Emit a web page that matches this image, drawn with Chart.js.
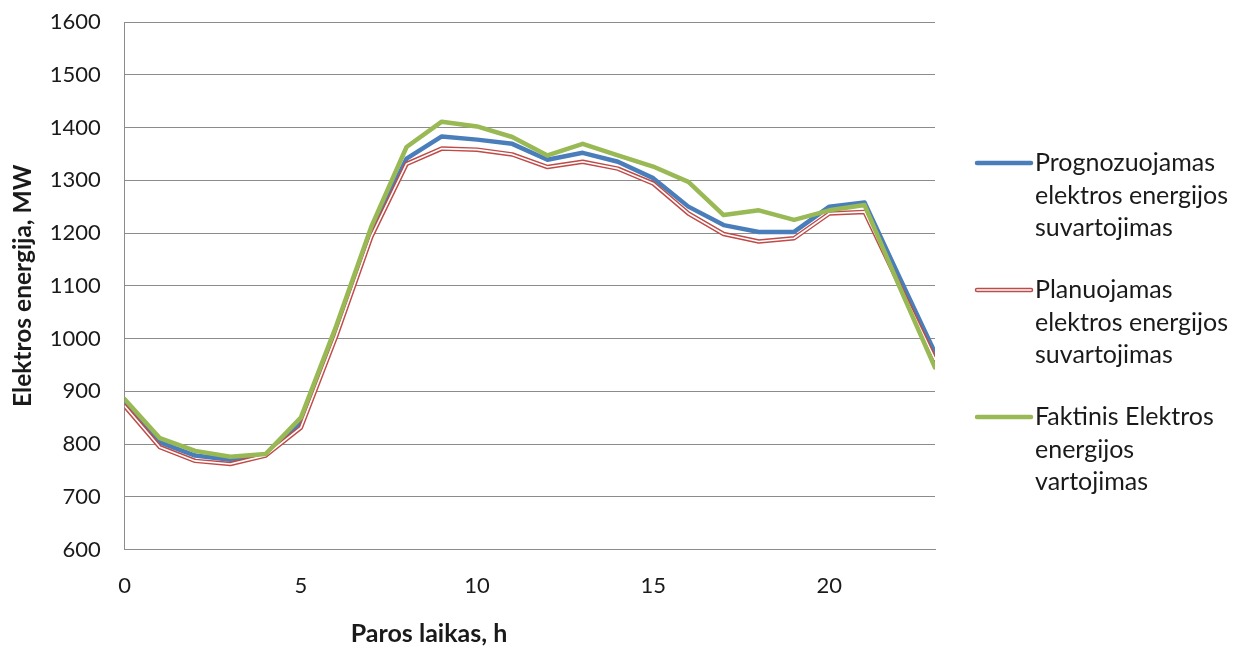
<!DOCTYPE html>
<html>
<head>
<meta charset="utf-8">
<script src="https://cdn.jsdelivr.net/npm/chart.js@4/dist/chart.umd.min.js"></script>
<style>
  html, body { margin: 0; padding: 0; background: #ffffff; }
  #wrap { width: 1244px; height: 646px; position: relative; }
</style>
</head>
<body>
<div id="wrap"><canvas id="c" width="1244" height="646"></canvas></div>
<script>
// ---- data ----
const hours = [0, 1, 2, 3, 4, 5, 6, 7, 8, 9, 10, 11, 12, 13, 14, 15, 16, 17, 18, 19, 20, 21, 22, 23];
const prognozuojamas = [875, 803, 778, 770, 779, 842, 1017, 1202, 1341, 1383, 1377, 1369, 1339, 1352, 1335, 1304, 1250, 1215, 1202, 1202, 1250, 1258, 1115, 973];
const planuojamas = [872, 794, 768, 762, 778, 831, 1004, 1193, 1331, 1360, 1358, 1349, 1325, 1335, 1322, 1294, 1237, 1198, 1184, 1190, 1237, 1240, 1100, 960];
const faktinis = [885, 811, 787, 776, 781, 850, 1023, 1212, 1363, 1411, 1402, 1382, 1347, 1369, 1347, 1326, 1297, 1234, 1243, 1225, 1243, 1253, 1097, 945];
const xTickValues = [0, 5, 10, 15, 20];
const yMin = 600, yMax = 1600, yStep = 100;
const seriesLabels = [
  ['Prognozuojamas', 'elektros energijos', 'suvartojimas'],
  ['Planuojamas', 'elektros energijos', 'suvartojimas'],
  ['Faktinis Elektros', 'energijos', 'vartojimas']
];
const xTitle = 'Paros laikas, h';
const yTitle = 'Elektros energija, MW';

// ---- styles ----
const BLUE = '#4A7EBB', RED = '#BE4B48', GREEN = '#98B954';
const GRID = '#8c8c8c';
const TEXT = '#1a1a1a';
const FONT = 'Lato, "Open Sans", sans-serif';

const toXY = arr => arr.map((v, i) => ({ x: hours[i], y: v }));

const legendPlugin = {
  id: 'sideLegend',
  afterDraw(chart) {
    const ctx = chart.ctx;
    const styles = [
      [{ c: BLUE, w: 4.5 }],
      [{ c: RED, w: 4.5 }, { c: '#ffffff', w: 1.6 }],
      [{ c: GREEN, w: 4.5 }]
    ];
    const x0 = 977, x1 = 1031, tx = 1035;
    const startY = 163, entryGap = 127, lineGap = 32.5;
    ctx.save();
    ctx.font = '25px ' + FONT;
    ctx.fillStyle = TEXT;
    ctx.textBaseline = 'middle';
    ctx.textAlign = 'left';
    seriesLabels.forEach((lines, i) => {
      const y = startY + i * entryGap;
      styles[i].forEach(s => {
        ctx.beginPath();
        ctx.lineCap = 'round';
        ctx.strokeStyle = s.c;
        ctx.lineWidth = s.w;
        ctx.moveTo(x0, y);
        ctx.lineTo(x1, y);
        ctx.stroke();
      });
      lines.forEach((t, j) => ctx.fillText(t, tx, y + j * lineGap));
    });
    // x-axis title (offset to the left as in the original)
    ctx.font = 'bold 25px ' + FONT;
    ctx.textAlign = 'center';
    ctx.fillText(xTitle, 429, 634);
    ctx.restore();
  }
};

new Chart(document.getElementById('c'), {
  type: 'line',
  data: {
    datasets: [
      { label: seriesLabels[0].join(' '), data: toXY(prognozuojamas), borderColor: BLUE, borderWidth: 4.5, pointRadius: 0, order: 4, tension: 0 },
      { label: seriesLabels[1].join(' '), data: toXY(planuojamas), borderColor: RED, borderWidth: 4.5, pointRadius: 0, order: 3, tension: 0 },
      { label: 'inner', data: toXY(planuojamas), borderColor: '#ffffff', borderWidth: 1.6, pointRadius: 0, order: 2, tension: 0 },
      { label: seriesLabels[2].join(' '), data: toXY(faktinis), borderColor: GREEN, borderWidth: 4.5, pointRadius: 0, order: 1, tension: 0 }
    ]
  },
  options: {
    responsive: false,
    animation: false,
    devicePixelRatio: 1,
    layout: { padding: { top: 22, right: 309, left: 0, bottom: 0 } },
    plugins: { legend: { display: false }, tooltip: { enabled: false } },
    elements: { line: { borderJoinStyle: 'round', borderCapStyle: 'round' } },
    scales: {
      x: {
        type: 'linear', min: 0, max: 23,
        afterBuildTicks: s => { s.ticks = xTickValues.map(v => ({ value: v })); },
        afterFit: s => { s.height = 96.5; s.paddingLeft = 0; s.paddingRight = 0; },
        grid: { display: false, drawTicks: false },
        border: { display: true, color: GRID, width: 1 },
        ticks: { color: TEXT, font: { family: FONT, size: 22 }, padding: 23, maxRotation: 0, callback: v => String(v) },
        title: { display: false }
      },
      y: {
        type: 'linear', min: yMin, max: yMax,
        ticks: { stepSize: yStep, color: TEXT, font: { family: FONT, size: 22 }, padding: 24, callback: v => String(v) },
        afterFit: s => { s.width = 124.7; s.paddingTop = 0; s.paddingBottom = 0; },
        grid: { color: GRID, lineWidth: 1, drawTicks: false },
        border: { display: true, color: GRID, width: 1 },
        title: { display: true, text: yTitle, color: TEXT, font: { family: FONT, size: 24.5, weight: 'bold' }, padding: { top: 8, bottom: 0 } }
      }
    }
  },
  plugins: [legendPlugin]
});
</script>
</body>
</html>
